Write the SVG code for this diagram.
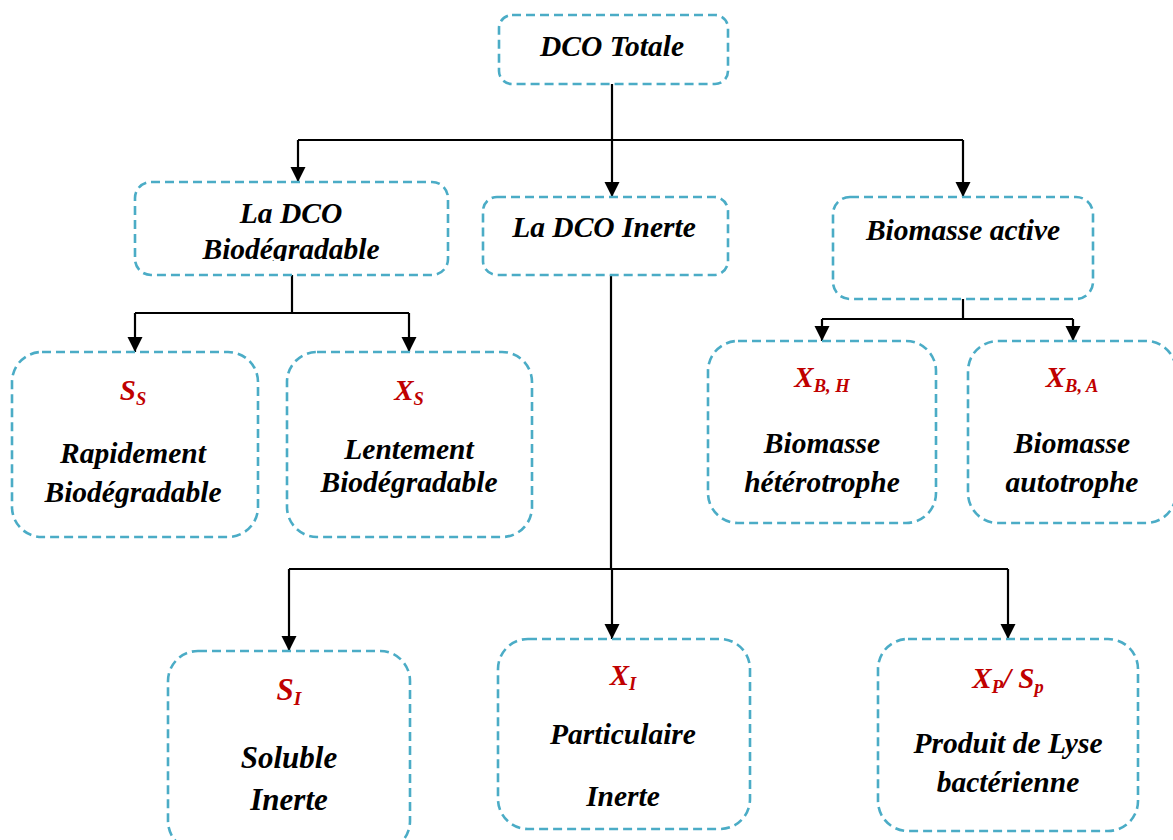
<svg xmlns="http://www.w3.org/2000/svg" width="1173" height="840" viewBox="0 0 1173 840">
<style>
.box{fill:#fff;stroke:#4BACC6;stroke-width:2.6;stroke-dasharray:9 5}
.t{font-family:"Liberation Serif","Times New Roman",serif;font-weight:bold;font-style:italic;font-size:29.5px;fill:#000;text-anchor:middle}
.r{fill:#C00000;font-size:29px}
.sub{font-size:18.5px}
.conn{fill:none;stroke:#000;stroke-width:2.2}
</style>
<defs>
<marker id="arr" markerUnits="userSpaceOnUse" markerWidth="16" markerHeight="16" refX="15" refY="7.5" orient="auto">
<path d="M0,0 L15,7.5 L0,15 z" fill="#000"/>
</marker>
<clipPath id="clipBio"><rect x="135" y="182" width="313" height="79"/></clipPath>
</defs>
<rect width="1173" height="840" fill="#fff"/>

<g id="connectors">
<path class="conn" d="M612,84 V140"/>
<path class="conn" d="M298,140 H963"/>
<path class="conn" d="M298,140 V182" marker-end="url(#arr)"/>
<path class="conn" d="M612,140 V197" marker-end="url(#arr)"/>
<path class="conn" d="M963,140 V197" marker-end="url(#arr)"/>
<path class="conn" d="M292,275 V313"/>
<path class="conn" d="M135,313 H409"/>
<path class="conn" d="M135,313 V352" marker-end="url(#arr)"/>
<path class="conn" d="M409,313 V352" marker-end="url(#arr)"/>
<path class="conn" d="M963,299 V319"/>
<path class="conn" d="M822,319 H1073"/>
<path class="conn" d="M822,319 V341" marker-end="url(#arr)"/>
<path class="conn" d="M1073,319 V341" marker-end="url(#arr)"/>
<path class="conn" d="M611,275 V569"/>
<path class="conn" d="M289,569 H1008"/>
<path class="conn" d="M289,569 V651" marker-end="url(#arr)"/>
<path class="conn" d="M612,569 V639" marker-end="url(#arr)"/>
<path class="conn" d="M1008,569 V639" marker-end="url(#arr)"/>
</g>

<g id="dco-totale">
<rect class="box" x="499" y="15" width="229" height="69" rx="13"/>
<text class="t" x="612" y="56">DCO Totale</text>
</g>

<g id="dco-biodegradable">
<rect class="box" x="135" y="182" width="313" height="93" rx="16"/>
<text class="t" x="291" y="223">La DCO</text>
<text class="t" x="291" y="259" clip-path="url(#clipBio)">Biodégradable</text>
</g>

<g id="dco-inerte">
<rect class="box" x="483" y="197" width="245" height="78" rx="14"/>
<text class="t" x="604" y="237">La DCO Inerte</text>
</g>

<g id="biomasse-active">
<rect class="box" x="833" y="197" width="260" height="102" rx="17"/>
<text class="t" x="963" y="240">Biomasse active</text>
</g>

<g id="ss">
<rect class="box" x="12" y="352" width="246" height="185" rx="30"/>
<text class="t r" x="133" y="400">S<tspan class="sub" dy="5">S</tspan></text>
<text class="t" x="133" y="463">Rapidement</text>
<text class="t" x="133" y="502">Biodégradable</text>
</g>

<g id="xs">
<rect class="box" x="287" y="352" width="245" height="185" rx="30"/>
<text class="t r" x="409" y="400">X<tspan class="sub" dy="5">S</tspan></text>
<text class="t" x="409" y="459">Lentement</text>
<text class="t" x="409" y="492">Biodégradable</text>
</g>

<g id="xbh">
<rect class="box" x="708" y="341" width="228" height="182" rx="30"/>
<text class="t r" x="822" y="387">X<tspan class="sub" dy="5">B, H</tspan></text>
<text class="t" x="822" y="453">Biomasse</text>
<text class="t" x="822" y="492">hétérotrophe</text>
</g>

<g id="xba">
<rect class="box" x="968" y="341" width="208" height="182" rx="30"/>
<text class="t r" x="1072" y="387">X<tspan class="sub" dy="5">B, A</tspan></text>
<text class="t" x="1072" y="453">Biomasse</text>
<text class="t" x="1072" y="492">autotrophe</text>
</g>

<g id="si">
<rect class="box" x="168" y="651" width="242" height="200" rx="30"/>
<text class="t r" x="289" y="700" style="font-size:31px">S<tspan class="sub" dy="5" style="font-size:19.5px">I</tspan></text>
<text class="t" x="289" y="768" style="font-size:31px">Soluble</text>
<text class="t" x="289" y="810" style="font-size:31px">Inerte</text>
</g>

<g id="xi">
<rect class="box" x="498" y="639" width="252" height="190" rx="30"/>
<text class="t r" x="623" y="685">X<tspan class="sub" dy="5">I</tspan></text>
<text class="t" x="623" y="744">Particulaire</text>
<text class="t" x="623" y="806">Inerte</text>
</g>

<g id="xp-sp">
<rect class="box" x="878" y="639" width="260" height="192" rx="30"/>
<text class="t r" x="1008" y="688">X<tspan class="sub" dy="5">P</tspan><tspan dy="-5">/ S</tspan><tspan class="sub" dy="5">p</tspan></text>
<text class="t" x="1008" y="753">Produit de Lyse</text>
<text class="t" x="1008" y="792">bactérienne</text>
</g>
</svg>
